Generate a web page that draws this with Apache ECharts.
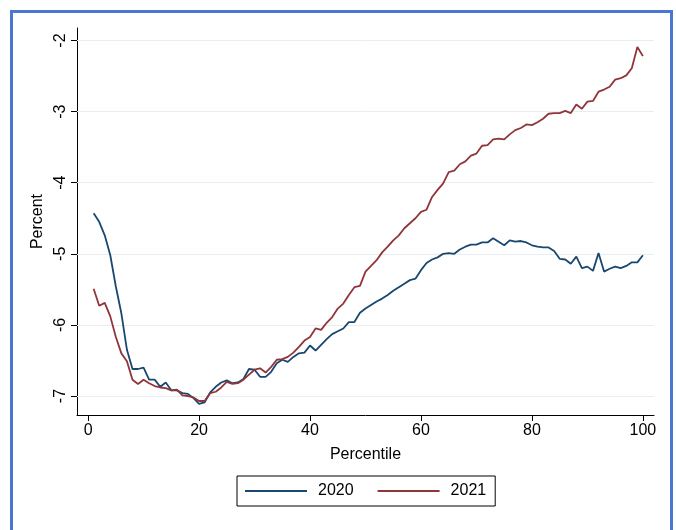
<!DOCTYPE html>
<html>
<head>
<meta charset="utf-8">
<script src="https://cdn.jsdelivr.net/npm/echarts@6/dist/echarts.min.js"></script>
<style>html,body{margin:0;padding:0;background:#fff;}#c{width:676px;height:530px;}</style>
</head>
<body>
<div id="c"></div>
<script>
var percentile = [1,2,3,4,5,6,7,8,9,10,11,12,13,14,15,16,17,18,19,20,21,22,23,24,25,26,27,28,29,30,31,32,33,34,35,36,37,38,39,40,41,42,43,44,45,46,47,48,49,50,51,52,53,54,55,56,57,58,59,60,61,62,63,64,65,66,67,68,69,70,71,72,73,74,75,76,77,78,79,80,81,82,83,84,85,86,87,88,89,90,91,92,93,94,95,96,97,98,99,100];
var y2020 = [-4.43,-4.55,-4.74,-5.02,-5.46,-5.84,-6.35,-6.62,-6.62,-6.60,-6.77,-6.77,-6.87,-6.81,-6.92,-6.92,-6.96,-6.97,-7.03,-7.11,-7.09,-6.95,-6.87,-6.81,-6.78,-6.82,-6.81,-6.76,-6.62,-6.63,-6.73,-6.73,-6.66,-6.54,-6.49,-6.52,-6.45,-6.40,-6.39,-6.29,-6.36,-6.28,-6.20,-6.13,-6.09,-6.05,-5.96,-5.96,-5.83,-5.77,-5.72,-5.67,-5.63,-5.58,-5.52,-5.47,-5.42,-5.37,-5.35,-5.23,-5.13,-5.08,-5.05,-5.00,-4.99,-5.00,-4.94,-4.90,-4.87,-4.87,-4.84,-4.84,-4.78,-4.83,-4.88,-4.81,-4.83,-4.82,-4.84,-4.88,-4.90,-4.91,-4.91,-4.96,-5.07,-5.08,-5.14,-5.04,-5.20,-5.18,-5.24,-4.99,-5.25,-5.21,-5.18,-5.20,-5.17,-5.12,-5.12,-5.02];
var y2021 = [-5.49,-5.73,-5.69,-5.88,-6.17,-6.40,-6.51,-6.77,-6.83,-6.77,-6.82,-6.86,-6.88,-6.89,-6.92,-6.91,-6.99,-7.00,-7.02,-7.07,-7.07,-6.96,-6.94,-6.88,-6.80,-6.83,-6.82,-6.77,-6.70,-6.63,-6.61,-6.67,-6.59,-6.49,-6.48,-6.45,-6.39,-6.31,-6.22,-6.17,-6.05,-6.07,-5.97,-5.89,-5.77,-5.70,-5.58,-5.47,-5.45,-5.25,-5.17,-5.09,-4.98,-4.90,-4.81,-4.74,-4.64,-4.57,-4.50,-4.41,-4.38,-4.20,-4.10,-4.01,-3.85,-3.83,-3.74,-3.70,-3.62,-3.59,-3.48,-3.47,-3.39,-3.38,-3.39,-3.32,-3.26,-3.23,-3.18,-3.19,-3.15,-3.10,-3.03,-3.02,-3.02,-2.99,-3.02,-2.90,-2.96,-2.86,-2.85,-2.72,-2.69,-2.65,-2.55,-2.53,-2.49,-2.39,-2.09,-2.22];
var xTicks = [0,20,40,60,80,100];
var yTicks = [-7,-6,-5,-4,-3,-2];
var seriesNames = ['2020','2021'];

var FONT = "'Liberation Sans', Arial, sans-serif";
function pairs(ys){ return percentile.map(function(p,i){ return [p, ys[i]]; }); }

var chart = echarts.init(document.getElementById('c'), null, {renderer:'canvas'});
chart.setOption({
  animation: false,
  backgroundColor: '#ffffff',
  textStyle: {fontFamily: FONT, color: '#000'},
  graphic: [{
    type: 'rect', z: 100, silent: true,
    shape: {x: 11.5, y: 11.5, width: 660, height: 540},
    style: {fill: 'none', stroke: '#4a78d0', lineWidth: 3}
  }],
  grid: {left: 77, right: 22, top: 28, bottom: 115, containLabel: false},
  legend: {
    data: seriesNames,
    left: 237, top: 476,
    icon: 'rect', itemWidth: 62, itemHeight: 2, itemGap: 24,
    borderColor: '#000', borderWidth: 1,
    padding: [7, 9, 7, 8],
    textStyle: {fontFamily: FONT, fontSize: 16, color: '#000', padding: [0,0,0,6]}
  },
  xAxis: {
    type: 'value', min: -2, max: 102,
    name: 'Percentile', nameLocation: 'middle', nameGap: 32,
    nameTextStyle: {fontFamily: FONT, fontSize: 16, color: '#000'},
    axisLine: {show: true, onZero: false, lineStyle: {color: '#000', width: 1}},
    axisTick: {show: true, customValues: xTicks, length: 6, lineStyle: {color: '#000'}},
    axisLabel: {show: true, customValues: xTicks, fontSize: 16, color: '#000', margin: 8, fontFamily: FONT},
    splitLine: {show: false}
  },
  yAxis: {
    type: 'value', min: -7.267, max: -1.824,
    name: 'Percent', nameLocation: 'middle', nameGap: 27,
    nameTextStyle: {fontFamily: FONT, fontSize: 16, color: '#000'},
    axisLine: {show: true, onZero: false, lineStyle: {color: '#000', width: 1}},
    axisTick: {show: true, customValues: yTicks, length: 6, lineStyle: {color: '#000'}},
    axisLabel: {show: true, customValues: yTicks, rotate: 90, fontSize: 16, color: '#000', margin: 8, fontFamily: FONT},
    splitLine: {show: false}
  },
  series: [
    {
      name: 'grid', type: 'line', data: [], z: 1, silent: true,
      markLine: {
        z: 1, silent: true, symbol: ['none','none'], label: {show: false},
        lineStyle: {color: '#e6eef1', width: 1, type: 'solid'},
        data: yTicks.map(function(v){ return {yAxis: v}; })
      }
    },
    {
      name: seriesNames[0], type: 'line', data: pairs(y2020), z: 3,
      showSymbol: false, symbol: 'none',
      lineStyle: {color: '#1a476f', width: 1.8}, itemStyle: {color: '#1a476f'}
    },
    {
      name: seriesNames[1], type: 'line', data: pairs(y2021), z: 3,
      showSymbol: false, symbol: 'none',
      lineStyle: {color: '#90353b', width: 1.8}, itemStyle: {color: '#90353b'}
    }
  ]
});
</script>
</body>
</html>
